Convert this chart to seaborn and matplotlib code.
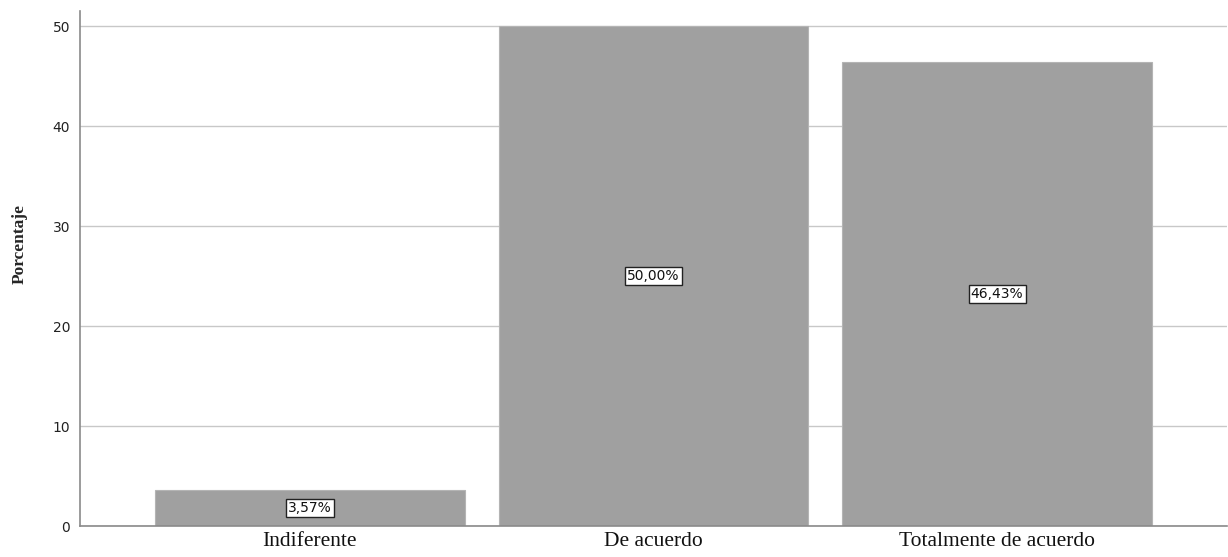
import matplotlib
matplotlib.use("Agg")
import matplotlib.pyplot as plt
import seaborn as sns
import pandas as pd

categories = ["Indiferente", "De acuerdo", "Totalmente de acuerdo"]
percentages = [3.57, 50.00, 46.43]
y_ticks = [0, 10, 20, 30, 40, 50]

df = pd.DataFrame({"categoria": categories, "porcentaje": percentages})

sns.set_theme(style="white")
plt.rcParams["font.family"] = ["DejaVu Sans"]

fig = plt.figure(figsize=(12.28, 5.57), dpi=100)
ax = fig.add_axes([80 / 1228, 31 / 557, 1147 / 1228, 515 / 557])

sns.barplot(data=df, x="categoria", y="porcentaje", order=categories,
            color="#a0a0a0", saturation=1, width=0.901,
            edgecolor="#b4b4b4", linewidth=0.8, ax=ax, zorder=2)

ax.set_xlim(-0.669, 2.669)
ax.set_ylim(0, 51.5)
ax.set_yticks(y_ticks)
ax.set_yticklabels([str(t) for t in y_ticks], fontsize=10, color="#222222")
ax.yaxis.grid(True, color="#c8c8c8", linewidth=1.0, zorder=0)
ax.set_axisbelow(True)
ax.tick_params(axis="both", length=0, pad=7)

for lbl in ax.get_xticklabels():
    lbl.set_fontfamily("Liberation Serif")
    lbl.set_fontsize(15.5)
    lbl.set_color("#111111")
ax.tick_params(axis="x", pad=4)

ax.set_xlabel("")
ax.set_ylabel("Porcentaje", fontfamily="Liberation Serif", fontsize=12.5,
              fontweight="bold")
ax.yaxis.set_label_coords(-0.046, 0.548)

for s in ["top", "right"]:
    ax.spines[s].set_visible(False)
for s in ["left", "bottom"]:
    ax.spines[s].set_color("#8a8a8a")
    ax.spines[s].set_linewidth(1.2)

for i, v in enumerate(percentages):
    ax.text(i, v / 2, f"{v:.2f}%".replace(".", ","), ha="center", va="center",
            fontsize=10, color="#111111", zorder=5,
            bbox=dict(boxstyle="square,pad=0.15", facecolor="white",
                      edgecolor="#222222", linewidth=1.0))

fig.savefig("out.png", dpi=100)
